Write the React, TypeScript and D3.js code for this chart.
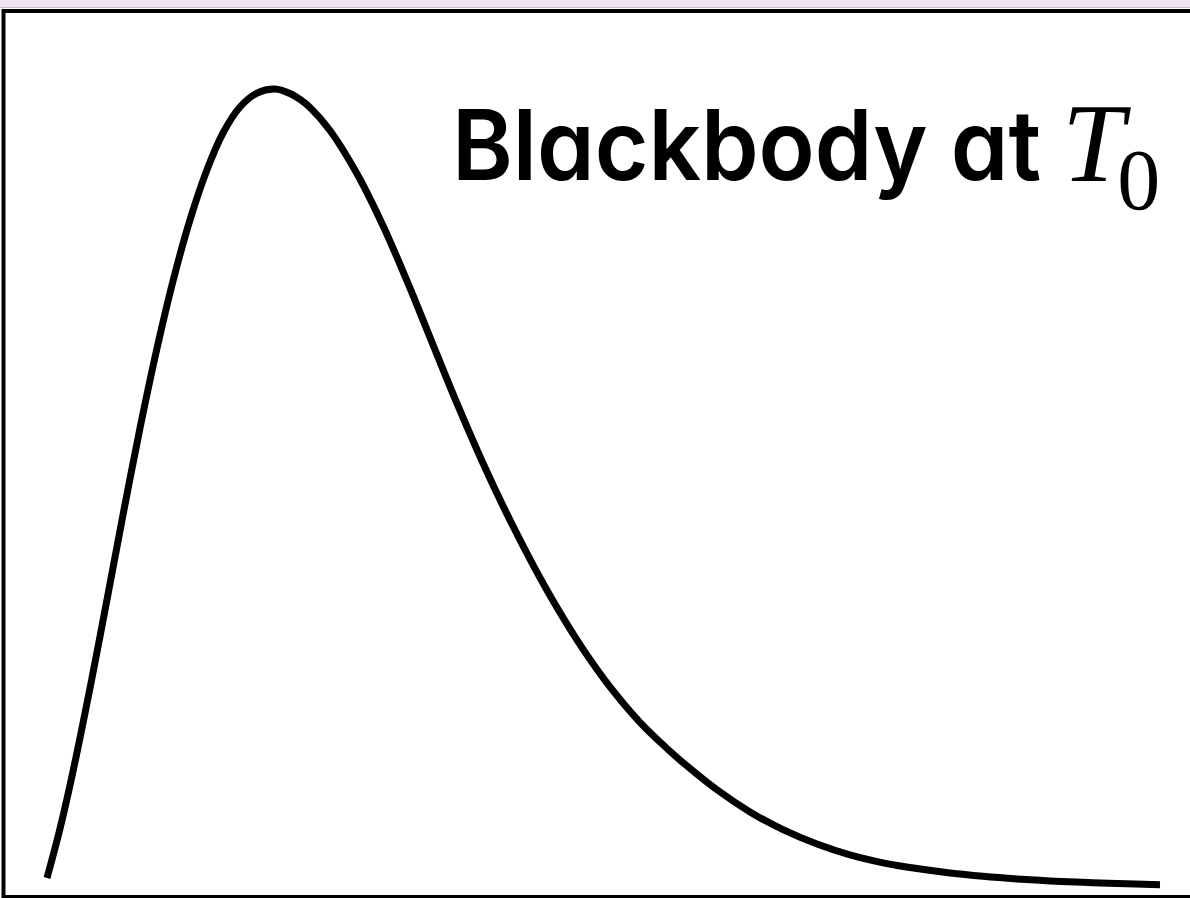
import React from 'react';
import { scaleLinear, line, curveCatmullRom } from 'd3';

// wavelength (nm) and normalised spectral intensity
const wavelength = [94, 120, 146, 180, 214, 246, 280, 314, 346, 380, 414, 446, 480, 514, 550, 580, 600, 620, 660, 714, 766, 814, 860, 914, 966, 1014, 1066, 1114, 1166, 1220, 1280, 1334, 1366, 1434, 1500, 1566, 1634, 1700, 1766, 1834, 1900, 1966, 2034, 2100, 2166, 2234, 2320];
const intensity = [0.0223, 0.0835, 0.1544, 0.2576, 0.3672, 0.4722, 0.5797, 0.6787, 0.762, 0.8378, 0.8999, 0.9455, 0.9777, 0.995, 1.0, 0.9944, 0.987, 0.9771, 0.9486, 0.895, 0.8306, 0.7622, 0.6923, 0.6104, 0.5363, 0.4732, 0.4104, 0.3575, 0.3059, 0.2591, 0.2152, 0.1828, 0.1653, 0.1316, 0.1042, 0.0822, 0.0644, 0.0509, 0.0411, 0.034, 0.0286, 0.0245, 0.0212, 0.0187, 0.0169, 0.0154, 0.014];

const labelText = 'Blackbody at';
const labelVar = 'T';
const labelSub = '0';

export default function App() {
  const width = 1190;
  const height = 898;

  const x = scaleLinear().domain([0, 2380]).range([0, width]);
  const y = scaleLinear().domain([0, 1]).range([896, 89]);

  const points: [number, number][] = wavelength.map((w, i) => [w, intensity[i]]);
  const path = line<[number, number]>()
    .x(d => x(d[0]))
    .y(d => y(d[1]))
    .curve(curveCatmullRom.alpha(0.5))(points);

  return (
    <svg
      width={width}
      height={height}
      style={{ position: 'absolute', left: 0, top: 0, background: '#fff' }}
    >
      {/* top strip */}
      <rect x={0} y={0} width={width} height={7} fill="#efe3f1" />
      <line x1={0} x2={width} y1={7.5} y2={7.5} stroke="#c8c0ca" strokeWidth={1} />

      {/* frame */}
      <rect x={3.5} y={11} width={1200} height={886} fill="none" stroke="#000" strokeWidth={4} />

      <path d={path || ''} fill="none" stroke="#000" strokeWidth={7} strokeLinecap="butt" strokeLinejoin="round" />

      <text
        x={452}
        y={180}
        fontFamily="Inter, 'Noto Sans', sans-serif"
        fontWeight={600}
        fontSize={97}
        textLength={589}
        lengthAdjust="spacingAndGlyphs"
        style={{ fontFeatureSettings: '"cv11"' }}
        fill="#000"
      >
        {labelText}
      </text>
      <text x={1062} y={181} fontFamily="'Liberation Serif', 'DejaVu Serif', serif" fill="#000">
        <tspan fontStyle="italic" fontSize={112}>{labelVar}</tspan>
        <tspan dx={-7} dy={28} fontSize={86}>{labelSub}</tspan>
      </text>
    </svg>
  );
}
